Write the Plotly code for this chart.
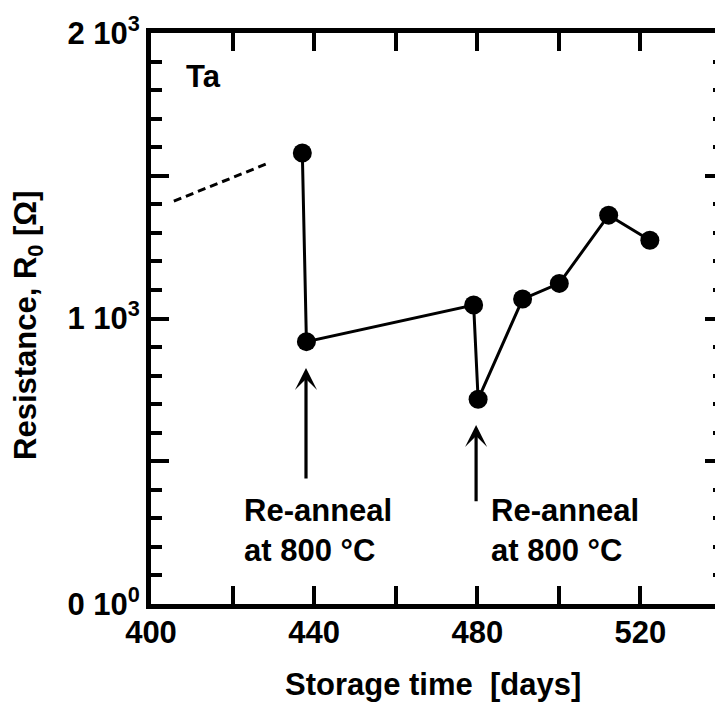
import plotly.graph_objects as go

# ---- data ----
days = [437.1, 438.1, 479.1, 480.2, 491.1, 500.1, 512.2, 522.3]
resistance = [1580, 919, 1047, 717, 1068, 1123, 1362, 1274]

# dashed extrapolation line from earlier storage
dash_days = [405.6, 429.1]
dash_res = [1411, 1546]

# re-anneal events (arrow x, arrow tip y, arrow tail y)
anneal_days = [438.0, 479.7]
anneal_tip = [827, 627]
anneal_tail = [434, 355]
anneal_text_x = [422.2, 482.8]
anneal_text_y = [256, 256]
anneal_label = "<b>Re-anneal<br>at 800\u00a0°C</b>"

x_tickvals = [400, 440, 480, 520]
x_ticktext = ["<b>400</b>", "<b>440</b>", "<b>480</b>", "<b>520</b>"]
y_tickvals = [0, 1000, 2000]
y_ticktext = ["<b>0 10<sup>0</sup></b>", "<b>1 10<sup>3</sup></b>", "<b>2 10<sup>3</sup></b>"]
y_mid_ticks = [500, 1500]

FONT = "Liberation Sans, Arial, sans-serif"
FS = 31
font = dict(family=FONT, size=FS, color="black", weight="bold")

fig = go.Figure()
fig.add_trace(go.Scatter(x=dash_days, y=dash_res, mode="lines",
                         line=dict(color="black", width=3, dash="8px,5px"),
                         showlegend=False, hoverinfo="skip"))
fig.add_trace(go.Scatter(x=days, y=resistance, mode="lines+markers",
                         line=dict(color="black", width=3),
                         marker=dict(color="black", size=19),
                         showlegend=False))
for ax_name in ("y2", "y3"):
    fig.add_trace(go.Scatter(x=[400], y=[0], yaxis=ax_name, mode="markers",
                             marker=dict(opacity=0), showlegend=False, hoverinfo="skip"))

annotations = []
for xa, tip, tail, tx, ty in zip(anneal_days, anneal_tip, anneal_tail, anneal_text_x, anneal_text_y):
    annotations.append(dict(x=xa, y=tip, ax=xa, ay=tail, xref="x", yref="y",
                            axref="x", ayref="y", text="", showarrow=True,
                            arrowhead=3, arrowwidth=3.2, arrowsize=1.15, arrowcolor="black"))
    annotations.append(dict(x=tx, y=ty, xref="x", yref="y", text=anneal_label,
                            showarrow=False, xanchor="left", yanchor="middle", align="left",
                            font=font))
annotations.append(dict(x=408, y=1849, xref="x", yref="y", text="<b>Ta</b>", showarrow=False,
                        xanchor="left", yanchor="middle", font=font))
annotations.append(dict(x=(27.5 - 150.5) / 564.5, y=(604 - 325) / 570.7, xref="paper", yref="paper",
                        text="<b>Resistance, R<sub>0</sub> [Ω]</b>", textangle=-90, showarrow=False,
                        xanchor="center", yanchor="middle", font=font))
annotations.append(dict(x=0.5, y=(604 - 684) / 570.7, xref="paper", yref="paper",
                        text="<b>Storage time \u00a0[days]</b>", showarrow=False,
                        xanchor="center", yanchor="middle", font=font))

fig.update_layout(
    width=715, height=702,
    margin=dict(l=150.5, r=0, t=33, b=98, pad=0),
    paper_bgcolor="white", plot_bgcolor="white",
    showlegend=False,
    annotations=annotations,
    xaxis=dict(range=[400, 400 + 564.5 / 4.0825], tickmode="array",
               tickvals=x_tickvals, ticktext=x_ticktext,
               ticks="inside", ticklen=18, tickwidth=4, tickcolor="black",
               minor=dict(dtick=20, tick0=400, ticks="inside", ticklen=18, tickwidth=4,
                          tickcolor="black", showgrid=False),
               showline=True, linewidth=5, linecolor="black", mirror="ticks",
               showgrid=False, zeroline=False, ticklabelstandoff=-3,
               tickfont=font),
    yaxis=dict(range=[0, 2000], tickmode="array",
               tickvals=y_tickvals, ticktext=y_ticktext,
               ticks="inside", ticklen=18, tickwidth=4, tickcolor="black",
               minor=dict(dtick=100, tick0=0, ticks="inside", ticklen=11, tickwidth=4,
                          tickcolor="black", showgrid=False),
               showline=True, linewidth=5, linecolor="black",
               showgrid=False, zeroline=False, ticklabelstandoff=0,
               tickfont=font),
    yaxis2=dict(range=[0, 2000], overlaying="y", side="right", anchor="x",
                tickmode="array", tickvals=y_tickvals + y_mid_ticks, showticklabels=False,
                ticks="inside", ticklen=10, tickwidth=4, tickcolor="black",
                minor=dict(dtick=100, tick0=0, ticks="inside", ticklen=2, tickwidth=4,
                           tickcolor="black", showgrid=False),
                showline=False, showgrid=False, zeroline=False),
    yaxis3=dict(range=[0, 2000], overlaying="y", side="left", anchor="x",
                tickmode="array", tickvals=y_mid_ticks, showticklabels=False,
                ticks="inside", ticklen=18, tickwidth=4, tickcolor="black",
                showline=False, showgrid=False, zeroline=False),
)

fig.write_html("out.html")
